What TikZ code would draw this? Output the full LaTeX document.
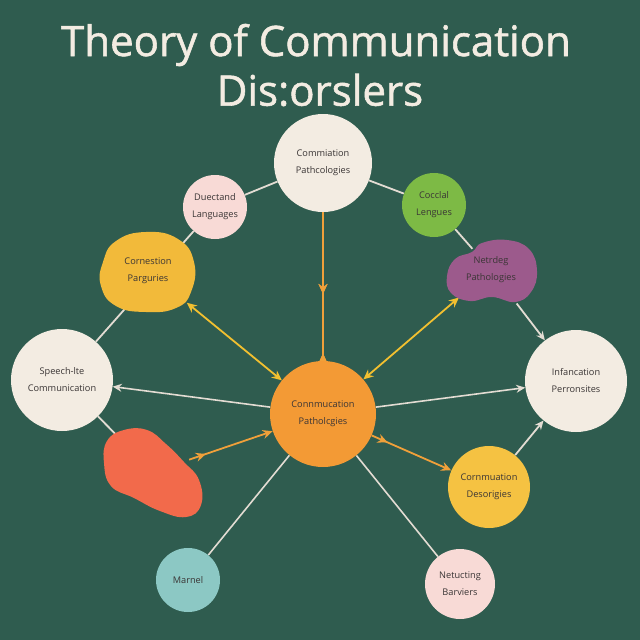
\documentclass[tikz,border=0pt]{standalone}
\usepackage{fontspec}
\setmainfont{Open Sans}
\newfontfamily\titlefont[FakeBold=1.3]{Open Sans}
\usetikzlibrary{arrows.meta,decorations.markings}
\definecolor{bg}{HTML}{2F5C4F}
\definecolor{cream}{HTML}{F3ECE2}
\definecolor{linec}{HTML}{E3DCD3}
\definecolor{pinkc}{HTML}{F8DAD6}
\definecolor{greenc}{HTML}{7DBA45}
\definecolor{yellowc}{HTML}{F2BA3A}
\definecolor{yellow2}{HTML}{F5C242}
\definecolor{purplec}{HTML}{9C5A8C}
\definecolor{orangec}{HTML}{F39A35}
\definecolor{redc}{HTML}{F26A4B}
\definecolor{tealc}{HTML}{8CC8C4}
\definecolor{txt}{HTML}{3A3535}
\definecolor{arrY}{HTML}{F2C030}
\definecolor{arrO}{HTML}{F0A03A}
\pgfdeclarelayer{background}
\pgfsetlayers{background,main}
\begin{document}
\begin{tikzpicture}[x=1pt,y=-1pt,
  bub/.style={circle,inner sep=0pt,align=center,text=txt,font=\fontsize{9.2}{17}\selectfont},
  lbl/.style={inner sep=0pt,align=center,text=txt,font=\fontsize{9.2}{17}\selectfont},
  arc/.style={draw=linec,line width=1.8pt},
  parr/.style={draw=linec,line width=1.6pt},
  tipP/.style={-{Stealth[length=9pt,width=8pt]}},
  yarr/.style={draw=arrY,line width=1.8pt,{Stealth[length=10pt,width=9pt]}-{Stealth[length=10pt,width=9pt]}},
  oarr/.style={draw=arrO,line width=1.8pt},
  midarrow/.style={postaction={decorate},decoration={markings,mark=at position #1 with {\arrow{Stealth[length=10pt,width=9pt]}}}},
  midrev/.style={postaction={decorate},decoration={markings,mark=at position #1 with {\arrowreversed{Stealth[length=10pt,width=9pt]}}}}
]
\begin{pgfonlayer}{background}
\fill[bg] (0,0) rectangle (640,640);
\end{pgfonlayer}
\useasboundingbox (0,0) rectangle (640,640);

% title
\node[text=cream,font=\titlefont\fontsize{42}{43}\selectfont] (t1) at (316,45) {Theory of Communication};
\node[text=cream,font=\titlefont\fontsize{42}{43}\selectfont] (t2) at (320,90) {Dis:orslers};

% circles
\node[bub,fill=cream,minimum size=98pt] (top) at (323,163) {Commiation\\Pathcologies};
\node[bub,fill=pinkc,minimum size=64pt] (due) at (215,207) {Duectand\\Languages};
\node[bub,fill=greenc,minimum size=64pt] (coc) at (434,205) {Cocclal\\Lengues};
\node[bub,fill=cream,minimum size=102pt] (spe) at (62,380) {Speech-lte\\Communication};
\node[bub,fill=cream,minimum size=102pt] (inf) at (576,381) {Infancation\\Perronsites};
\node[bub,fill=orangec,minimum size=106pt] (cen) at (323,414) {Connmucation\\Patholcgies};
\node[bub,fill=yellow2,minimum size=82pt] (des) at (489,487) {Cornmuation\\Desorigies};
\node[bub,fill=tealc,minimum size=64pt] (mar) at (188,580) {Marnel};
\node[bub,fill=pinkc,minimum size=70pt] (net) at (460,584) {Netucting\\Barviers};

% blobs
\fill[yellowc] plot[smooth cycle,tension=0.8] coordinates {(103,262) (116,241) (146,232) (178,239) (194,262) (191,292) (176,308) (146,312) (116,306) (101,286)};
\node[lbl,circle,minimum size=100pt] (cor) at (148,271) {Cornestion\\Parguries};
\fill[purplec] plot[smooth cycle,tension=0.75] coordinates {(447,276) (455,259) (472,252) (482,243) (507,240) (529,249) (537,271) (531,292) (515,302) (492,297) (470,301) (451,293)};
\node[lbl,circle,minimum size=84pt] (ntr) at (491,270) {Netrdeg\\Pathologies};
\fill[redc] plot[smooth cycle,tension=0.75] coordinates {(107,441) (124,430) (147,430) (166,444) (184,462) (199,480) (201,505) (186,517) (160,511) (134,498) (111,486) (104,463)};
\node[circle,inner sep=0pt,minimum size=76pt] (red) at (153,472) {};

\begin{pgfonlayer}{background}
% outer arc connectors
\draw[arc] (spe) -- (due);
\draw[arc] (due) -- (top);
\draw[arc] (top) -- (coc);
\draw[arc,shorten >=-14pt] (coc) -- (ntr);
\draw[arc,tipP] (ntr) -- (inf);
\draw[arc] (spe) -- (red);
\draw[arc,tipP] (des) -- (inf);
% center spokes
\draw[parr,tipP] (cen) -- (spe);
\draw[parr,tipP] (cen) -- (inf);
\draw[parr] (cen) -- (mar);
\draw[parr] (cen) -- (net);
% top vertical
\draw[oarr,midarrow=0.55,midrev=0.95] (top) -- (cen);
% yellow double arrows
\draw[yarr] (cor) -- (cen);
\draw[yarr] (ntr) -- (cen);
% orange arrows
\draw[oarr,midarrow=0.2,-{Stealth[length=10pt,width=9pt]}] (red) -- (cen);
\draw[oarr,midarrow=0.2,-{Stealth[length=10pt,width=9pt]}] (cen) -- (des);
\end{pgfonlayer}
\end{tikzpicture}
\end{document}
